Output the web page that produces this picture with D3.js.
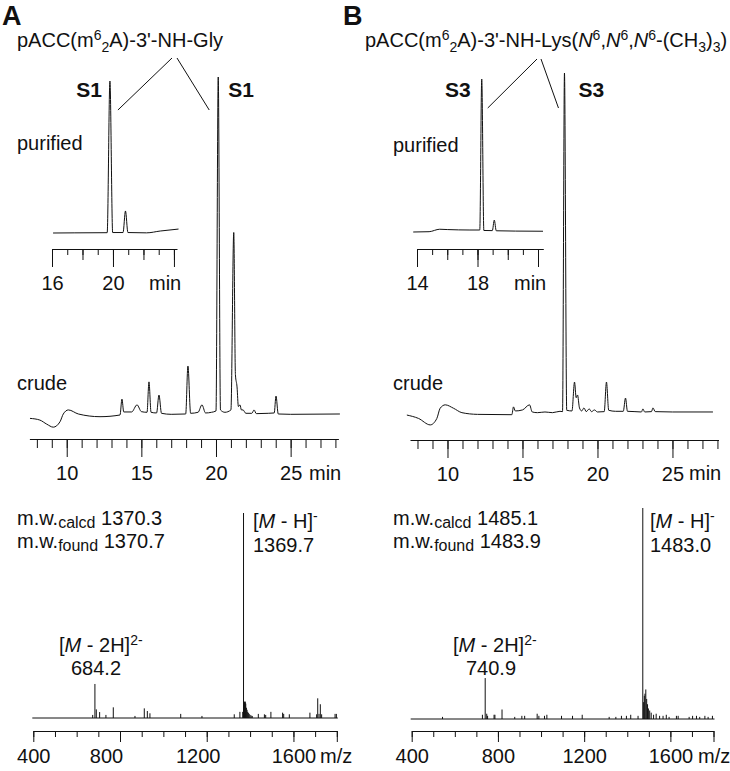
<!DOCTYPE html>
<html>
<head>
<meta charset="utf-8">
<script src="https://cdn.jsdelivr.net/npm/d3@7"></script>
<style>
body{margin:0;background:#fff}
svg text{font-family:"Liberation Sans",Arial,Helvetica,sans-serif;fill:#111}
</style>
</head>
<body>
<svg id="fig" width="730" height="771"></svg>
<script>
// HPLC (crude / purified) + MS, deux panneaux A et B.
// Traces : [temps (min), signal (% du pic principal)].
// Spectres : [m/z, intensité relative (%)].

// ── DONNÉES ───────────────────────────────────────────────────────────────
var crudeA=[
  [7.54,-1],[8.2,-1.5],[8.66,-2.7],[9.1,-3.6],[9.55,-2],[9.77,0.3],[10.11,1.5],[10.78,0.3],
  [12.23,-0.5],[13.57,0],[13.7,4.7],[13.82,0.9],[14.35,0.9],[14.71,3],[15.0,1],[15.38,0.8],
  [15.51,9.8],[15.65,0.8],[16.02,0.6],[16.18,5.9],[16.35,0.5],[17.0,0.2],[17.97,0.3],
  [18.12,14.5],[18.3,0.5],[18.8,0.8],[19.06,3],[19.3,0.6],[19.7,0.8],[20.0,1.2],[20.15,100],
  [20.3,1.5],[20.6,0.8],[21.0,1.5],[21.19,54],[21.3,12],[21.41,8.3],[21.5,2.5],[21.61,3],
  [21.7,1.5],[21.81,1.5],[22.0,0.5],[22.4,0.5],[22.55,1.5],[22.7,0.4],[23.5,0.5],[23.9,0.6],
  [24.02,5.6],[24.17,0.3],[25.0,0.2],[28.3,0.3]
];
var purifiedA=[
  [16.07,0],[17.5,0.1],[19.62,0.2],[19.8,100],[19.98,0.3],[20.66,0.3],[20.82,14.5],[20.98,0.3],
  [22.2,0.1],[23.1,1.3],[24.3,2.6]
];
var crudeB=[
  [7.29,-0.6],[8.07,-1.6],[8.85,-3.5],[9.29,-1.6],[9.51,1.4],[9.85,2.4],[10.4,1.4],[10.96,0.1],
  [12.0,-0.4],[14.29,-0.5],[14.4,1.8],[14.52,0.6],[15.0,0.9],[15.47,2.4],[15.65,0.3],[16.0,0.1],
  [16.5,0.3],[17.0,0.1],[17.5,0.5],[17.67,0.4],[17.8,100],[17.95,0.8],[18.3,0.6],[18.47,9.1],
  [18.58,4.5],[18.67,5.3],[18.8,1.5],[18.95,0.6],[19.1,1.5],[19.25,0.4],[19.45,1.2],[19.6,0.4],
  [19.8,0.9],[20.0,0.3],[20.45,0.4],[20.6,9.1],[20.75,0.8],[21.2,0.5],[21.72,0.5],[21.87,4.4],
  [22.0,0.5],[22.5,0.4],[22.93,0.3],[23.03,1.2],[23.15,0.3],[23.6,0.4],[23.7,1.5],[23.85,0.4],
  [25.0,0.3],[27.7,0.3]
];
var purifiedB=[
  [13.75,0],[14.8,0.2],[15.5,1.8],[16.0,1.6],[17.5,1.3],[18.15,1.3],[18.28,100],[18.42,1.0],
  [18.98,0.9],[19.11,7.8],[19.24,0.8],[20.5,0.6],[22.33,0.5]
];
var msA=[
  [674,1.5],[684.2,16.6],[690.6,4.2],[706,2.9],[735,1.5],[769,5.2],[869,1],[912,4.7],[926,3.4],
  [938,2.3],[1080,2],[1178,1],[1327,1.8],[1353,3],[1366,3],[1369.7,100],[1372,6],[1374,8],
  [1376,7.5],[1378,8],[1380,7],[1383,5],[1386,4],[1389,3],[1392,2.5],[1396,2],[1400,1.5],
  [1405,1.2],[1410,1],[1438,2],[1466,1.8],[1472,1.5],[1496,3],[1550,2.6],[1555,2],[1581,1.8],
  [1676,2.6],[1707,1.8],[1712,9.6],[1718,2],[1724,6.7],[1730,1.8],[1792,2],[1798,2]
];
var msB=[
  [543,1],[728,2],[740.9,19.4],[748,2.5],[752,1.5],[782,2],[786,2],[819,4.5],[878,1],[911,1.5],
  [924,1.5],[982,2.5],[990,1.5],[1016,1.5],[1027,2],[1095,1.5],[1146,1.5],[1191,2],[1316,1],
  [1347,1],[1373,1.5],[1396,1.5],[1416,2],[1450,1.5],[1472,100],[1476,8],[1479,11],[1482,12],
  [1486,14],[1490,9.5],[1494,7],[1498,5],[1504,4],[1511,3],[1522,2],[1534,2.5],[1550,1.5],
  [1566,1.5],[1581,2],[1594,1],[1628,1.5],[1636,1.5],[1687,1],[1703,1.5],[1721,1.5],[1736,1],
  [1760,1.5],[1775,1],[1795,1.5]
];

var crudeTicks=d3.range(8,29);          // graduations 1 min
var crudeLabels=[10,15,20,25];
var insetTicksA=d3.range(16,25), insetLabelsA=[16,20];
var insetTicksB=d3.range(14,23), insetLabelsB=[14,18];
var msTicks=d3.range(400,1801,100);
var msMajor=[400,800,1200,1600,1800];
var msLabels=[400,800,1200,1600];

var titleA=[["pACC(m"],["6","^"],["2","_"],["A)-3'-NH-Gly"]];
var titleB=[["pACC(m"],["6","^"],["2","_"],["A)-3'-NH-Lys("],["N","i"],["6","^"],[","],["N","i"],["6","^"],
  [","],["N","i"],["6","^"],["-(CH"],["3","_"],[")"],["3","_"],[")"]];

var mwA={calcd:"1370.3",found:"1370.7"}, mwB={calcd:"1485.1",found:"1483.9"};
var ionA={single:"1369.7",dbl:"684.2"}, ionB={single:"1483.0",dbl:"740.9"};

// ── MISE EN PAGE ──────────────────────────────────────────────────────────
var FS=20;
var panels=[
  {letter:"A",lx:2,title:titleA,tx:17,name:"S1",lab:17,
   inset:{data:purifiedA,dom:[16,24.2],rng:[52,177],y:[233,81],ay:249,ticks:insetTicksA,labels:insetLabelsA,minX:149,peak:19.8},
   crude:{data:crudeA,dom:[7.5,28.2],rng:[29.4,338.4],y:[415,77],ay:439,minX:309,peak:20.15},
   ms:{data:msA,rng:[33.3,336.8],y:[718,513],shift:{800:-14,1200:-9},mzX:320},
   mw:mwA,ion:ionA,ionSx:253,dblX:59,dblNx:71,
   link:{o:[172,177],y0:58,y1:110,dIn:8,dCr:-9},sIn:-8,sCr:10},
  {letter:"B",lx:343,title:titleB,tx:365,name:"S3",lab:393,
   inset:{data:purifiedB,dom:[14,22.35],rng:[417,543.3],y:[232,79],ay:249,ticks:insetTicksB,labels:insetLabelsB,minX:514,peak:18.28},
   crude:{data:crudeB,dom:[7.5,28.07],rng:[410,718.5],y:[413,73],ay:440,minX:689,peak:17.8},
   ms:{data:msB,rng:[411.7,713.5],y:[719,508],shift:{},mzX:698},
   mw:mwB,ion:ionB,ionSx:650,dblX:453,dblNx:466,
   link:{o:[537,541],y0:59,y1:108,dIn:6,dCr:-6},sIn:-11,sCr:14}
];

var svg=d3.select("#fig");

// Texte avec exposants / indices / italique : [texte, mode] mode ∈ "", "^", "_", "i", "~"
function rich(g,x,y,parts,size,anchor){
  var t=g.append("text").attr("x",x).attr("y",y).attr("font-size",size).attr("text-anchor",anchor||"start");
  var cur=0;
  parts.forEach(function(p){
    var m=p[1]||"";
    var off=m==="^"?-0.37*size:m==="_"?0.27*size:m==="~"?3:0;
    var ts=t.append("tspan").attr("dy",off-cur).text(p[0]);
    if(m==="^"||m==="_")ts.attr("font-size",Math.round(size*0.7));
    if(m==="~")ts.attr("font-size",16);
    if(m==="i")ts.attr("font-style","italic");
    cur=off;
  });
  return t;
}

function trace(g,data,x,y){
  var line=d3.line().x(function(d){return x(d[0]);}).y(function(d){return y(d[1]);}).curve(d3.curveMonotoneX);
  g.append("path").datum(data).attr("d",line).attr("fill","none").attr("stroke","#111").attr("stroke-width",1);
}

// Axe gradué en plusieurs niveaux : [[ticks, taille], ...], labels sur le dernier niveau
function axis(g,x,y0,levels,labels,pad,shift){
  var ax=g.append("g").attr("transform","translate(0,"+y0+")").style("color","#111");
  levels.forEach(function(lv,i){
    var a=d3.axisBottom(x).tickValues(lv[0]).tickSize(lv[1]).tickSizeOuter(0).tickPadding(pad)
      .tickFormat(function(d){return (i===levels.length-1&&labels.indexOf(d)>=0)?d:"";});
    var s=ax.append("g").call(a);
    s.attr("font-size",FS).attr("font-family",null);
    if(i>0)s.select(".domain").remove();
    s.selectAll(".tick text").attr("dx",function(d){return shift&&shift[d]?shift[d]:0;});
  });
  ax.selectAll("path,line").attr("stroke-width",1);
  return ax;
}

panels.forEach(function(P){
  var g=svg.append("g");
  g.append("text").attr("x",P.lx).attr("y",25).attr("font-size",27).attr("font-weight","bold").text(P.letter);
  rich(g,P.tx,47,P.title,FS);

  // Inset (purified)
  var I=P.inset;
  var xi=d3.scaleLinear().domain(I.dom).range(I.rng);
  var yi=d3.scaleLinear().domain([0,100]).range(I.y);
  trace(g,I.data,xi,yi);
  axis(g,xi,I.ay,[
    [I.ticks,6],
    [I.ticks.filter(function(d){return d%2===0;}),11],
    [I.ticks.filter(function(d){return d%4===I.labels[0]%4;}),18]
  ],I.labels,8.8);
  g.append("text").attr("x",I.minX).attr("y",290).attr("font-size",FS).text("min");

  // Crude
  var C=P.crude;
  var xc=d3.scaleLinear().domain(C.dom).range(C.rng);
  var yc=d3.scaleLinear().domain([0,100]).range(C.y);
  trace(g,C.data,xc,yc);
  axis(g,xc,C.ay,[[crudeTicks,9],[crudeLabels,18]],crudeLabels,8.8);
  g.append("text").attr("x",C.minX).attr("y",480).attr("font-size",FS).text("min");

  // Labels
  g.append("text").attr("x",P.lab).attr("y",P.letter==="A"?150:152).attr("font-size",FS).text("purified");
  g.append("text").attr("x",P.lab).attr("y",390).attr("font-size",FS).text("crude");
  var pxIn=xi(I.peak), pxCr=xc(C.peak);
  g.append("text").attr("x",pxIn+P.sIn).attr("y",97).attr("font-size",21).attr("font-weight","bold")
    .attr("text-anchor","end").text(P.name);
  g.append("text").attr("x",pxCr+P.sCr).attr("y",97).attr("font-size",21).attr("font-weight","bold").text(P.name);
  var L=P.link;
  g.append("line").attr("x1",L.o[0]).attr("y1",L.y0).attr("x2",pxIn+L.dIn).attr("y2",L.y1).attr("stroke","#111");
  g.append("line").attr("x1",L.o[1]).attr("y1",L.y0).attr("x2",pxCr+L.dCr).attr("y2",L.y1).attr("stroke","#111");

  // MS
  var M=P.ms;
  var xm=d3.scaleLinear().domain([400,1800]).range(M.rng);
  var ym=d3.scaleLinear().domain([0,100]).range(M.y);
  g.append("line").attr("x1",M.rng[0]-1).attr("x2",M.rng[1]+1).attr("y1",ym(0)).attr("y2",ym(0)).attr("stroke","#111");
  g.append("g").selectAll("line").data(M.data).join("line")
    .attr("x1",function(d){return xm(d[0]);}).attr("x2",function(d){return xm(d[0]);})
    .attr("y1",ym(0)).attr("y2",function(d){return ym(d[1]);})
    .attr("stroke","#111").attr("stroke-width",1);
  axis(g,xm,731,[[msTicks,6],[msMajor,11]],msLabels,6.8,M.shift);
  g.append("text").attr("x",M.mzX).attr("y",763).attr("font-size",FS).text("m/z");

  rich(g,P.lab,525,[["m.w."],["calcd","~"],[" "+P.mw.calcd]],FS);
  rich(g,P.lab,548,[["m.w."],["found","~"],[" "+P.mw.found]],FS);
  rich(g,P.ionSx,528,[["["],["M","i"],[" - H]"],["-","^"]],FS);
  g.append("text").attr("x",P.ionSx).attr("y",552).attr("font-size",FS).text(P.ion.single);
  rich(g,P.dblX,652,[["["],["M","i"],[" - 2H]"],["2-","^"]],FS);
  g.append("text").attr("x",P.dblNx).attr("y",675).attr("font-size",FS).text(P.ion.dbl);
});
</script>
</body>
</html>
